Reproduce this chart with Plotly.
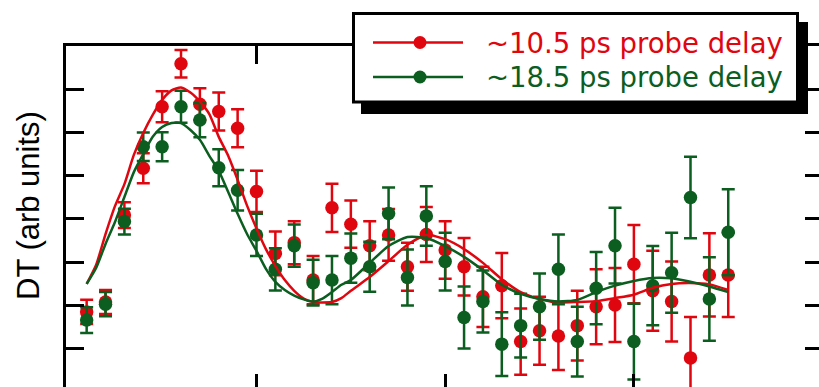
import plotly.graph_objects as go

# ---------------- data ----------------
delay_x = [0.1, 0.2, 0.3, 0.4, 0.5, 0.6, 0.7, 0.8, 0.9, 1.0,
           1.1, 1.2, 1.3, 1.4, 1.5, 1.6, 1.7, 1.8, 1.9, 2.0,
           2.1, 2.2, 2.3, 2.4, 2.5, 2.6, 2.7, 2.8, 2.9, 3.0,
           3.1, 3.2, 3.3, 3.4, 3.5]

red_y = [1.84, 2.07, 4.09, 5.18, 6.61, 7.61, 6.67, 6.50, 6.11, 4.64,
         3.20, 3.45, 2.58, 4.26, 3.88, 3.38, 3.63, 2.89, 3.64, 3.28,
         2.89, 2.19, 2.45, 1.15, 1.40, 1.28, 1.52, 1.96, 2.00, 2.95,
         2.33, 2.08, 0.77, 2.70, 2.70]
red_err = [0.28, 0.28, 0.30, 0.35, 0.36, 0.32, 0.37, 0.44, 0.44, 0.48,
           0.51, 0.50, 0.56, 0.56, 0.55, 0.57, 0.60, 0.56, 0.64, 0.67,
           0.67, 0.70, 0.76, 0.77, 0.79, 0.79, 0.81, 0.87, 0.86, 0.91,
           0.93, 0.93, 0.95, 0.97, 0.98]

green_y = [1.65, 2.02, 3.94, 5.68, 5.68, 6.61, 6.30, 5.19, 4.67, 3.63,
           2.83, 3.38, 2.52, 2.58, 3.09, 2.89, 4.13, 2.64, 4.07, 3.01,
           1.71, 2.08, 1.09, 1.52, 1.96, 2.83, 1.15, 2.39, 3.38, 1.15,
           2.45, 2.75, 4.50, 2.14, 3.69]
green_err = [0.30, 0.28, 0.30, 0.33, 0.34, 0.37, 0.40, 0.43, 0.47, 0.49,
             0.49, 0.49, 0.53, 0.56, 0.57, 0.58, 0.60, 0.65, 0.69, 0.67,
             0.72, 0.72, 0.74, 0.74, 0.77, 0.81, 0.81, 0.84, 0.88, 0.88,
             0.92, 0.93, 0.95, 0.97, 1.00]

fit_x = [0.10, 0.15, 0.20, 0.25, 0.30, 0.35, 0.40, 0.45, 0.50, 0.55,
         0.60, 0.65, 0.70, 0.75, 0.80, 0.85, 0.90, 0.95, 1.00, 1.05,
         1.10, 1.15, 1.20, 1.25, 1.30, 1.35, 1.40, 1.45, 1.50, 1.60,
         1.70, 1.80, 1.90, 2.00, 2.10, 2.20, 2.30, 2.40, 2.50, 2.60,
         2.70, 2.80, 2.90, 3.00, 3.10, 3.20, 3.30, 3.40, 3.50]

red_fit = [2.49, 2.93, 3.65, 4.30, 4.81, 5.49, 6.00, 6.42, 6.77, 6.99,
           7.06, 6.94, 6.73, 6.44, 5.91, 5.47, 4.91, 4.31, 3.78, 3.30,
           2.91, 2.58, 2.33, 2.15, 2.07, 2.06, 2.07, 2.16, 2.33, 2.65,
           3.02, 3.40, 3.63, 3.53, 3.30, 2.98, 2.60, 2.30, 2.14, 2.06,
           2.07, 2.09, 2.16, 2.24, 2.40, 2.49, 2.51, 2.48, 2.35]

green_fit = [2.49, 2.86, 3.42, 3.93, 4.51, 5.09, 5.51, 5.91, 6.14, 6.23,
             6.23, 6.07, 5.84, 5.47, 5.12, 4.63, 4.12, 3.65, 3.26, 2.84,
             2.54, 2.35, 2.22, 2.13, 2.08, 2.15, 2.30, 2.47, 2.58, 2.98,
             3.37, 3.58, 3.56, 3.37, 3.12, 2.81, 2.47, 2.26, 2.14, 2.08,
             2.12, 2.30, 2.45, 2.56, 2.63, 2.62, 2.54, 2.43, 2.30]

x_ticks = [1, 2, 3]
y_ticks = [1, 2, 3, 4, 5, 6, 7]

series_names = ["~10.5 ps probe delay", "~18.5 ps probe delay"]
y_label = "DT (arb units)"

# ---------------- style ----------------
RED = "#e0060f"
GREEN = "#0b5e1f"
W, H = 819, 387
ML, MT = 66, 46
X_RANGE = [-0.0095, 3.981]
Y_RANGE = [0.093, 8.023]

fig = go.Figure()

for yv, ev, col, nm in [(red_y, red_err, RED, series_names[0]),
                        (green_y, green_err, GREEN, series_names[1])]:
    fig.add_trace(go.Scatter(
        x=delay_x, y=yv, mode="markers", name=nm,
        marker=dict(color=col, size=13.5, line=dict(width=0)),
        error_y=dict(type="data", array=ev, visible=True, color=col,
                     thickness=2.5, width=6.5),
        showlegend=False))

# fit curves on the overlaid (top/right) axes, which share the same ranges
for yv, col, nm in [(red_fit, RED, series_names[0]),
                    (green_fit, GREEN, series_names[1])]:
    fig.add_trace(go.Scatter(
        x=fit_x, y=yv, mode="lines", name=nm + " fit",
        xaxis="x2", yaxis="y2",
        line=dict(color=col, width=2.5, shape="spline", smoothing=0.6),
        showlegend=False))

common_x = dict(range=X_RANGE, showgrid=False, zeroline=False,
                showticklabels=False, tickvals=x_ticks, tickcolor="black",
                tickwidth=3)
common_y = dict(range=Y_RANGE, showgrid=False, zeroline=False,
                showticklabels=False, tickvals=y_ticks, tickcolor="black",
                tickwidth=3)

fig.update_layout(
    width=W, height=H,
    margin=dict(l=ML, r=0, t=MT, b=0, pad=0),
    paper_bgcolor="white", plot_bgcolor="white",
    showlegend=False,
    font=dict(family="Liberation Sans, Arial, sans-serif", color="black"),
    xaxis=dict(**common_x, showline=False, ticks="inside", ticklen=13),
    xaxis2=dict(**common_x, overlaying="x", side="top", anchor="y2",
                showline=True, linewidth=3, linecolor="black",
                ticks="inside", ticklen=18),
    yaxis=dict(**common_y, showline=True, linewidth=3, linecolor="black",
               ticks="inside", ticklen=18),
    yaxis2=dict(**common_y, overlaying="y", side="right", anchor="x2",
                showline=False, ticks="inside", ticklen=14),
)

# ---------------- legend (drawn box with drop shadow) ----------------
def px2x(px):
    return (px - ML) / (W - ML)

def px2y(py):
    return (H - py) / (H - MT)

shapes = [
    dict(type="rect", xref="paper", yref="paper", layer="above",
         x0=px2x(361), x1=px2x(808), y0=px2y(114), y1=px2y(22),
         fillcolor="black", line=dict(width=0)),
    dict(type="rect", xref="paper", yref="paper", layer="above",
         x0=px2x(353.5), x1=px2x(797.5), y0=px2y(102), y1=px2y(13.5),
         fillcolor="white", line=dict(color="black", width=3)),
]
annotations = [
    dict(xref="paper", yref="paper", x=px2x(28), y=px2y(206),
         xanchor="center", yanchor="middle", showarrow=False, textangle=-90,
         text=y_label,
         font=dict(size=31, color="black",
                   family="Liberation Sans, Arial, sans-serif")),
]
for row_y, col, nm in [(42.5, RED, series_names[0]), (77, GREEN, series_names[1])]:
    shapes.append(dict(type="line", xref="paper", yref="paper", layer="above",
                       x0=px2x(373), x1=px2x(463), y0=px2y(row_y), y1=px2y(row_y),
                       line=dict(color=col, width=2.5)))
    shapes.append(dict(type="circle", xref="paper", yref="paper", layer="above",
                       xsizemode="pixel", ysizemode="pixel",
                       xanchor=px2x(420), yanchor=px2y(row_y),
                       x0=-6.5, x1=6.5, y0=-6.5, y1=6.5,
                       fillcolor=col, line=dict(width=0)))
    annotations.append(dict(xref="paper", yref="paper", x=px2x(484), y=px2y(row_y),
                            xanchor="left", yanchor="middle", showarrow=False,
                            text=nm, font=dict(size=27.5, color=col,
                                               family="DejaVu Sans, sans-serif")))

fig.update_layout(shapes=shapes, annotations=annotations)

fig.write_html("out.html",
               config={"displayModeBar": False},
               post_script="document.body.style.margin='0px';")
